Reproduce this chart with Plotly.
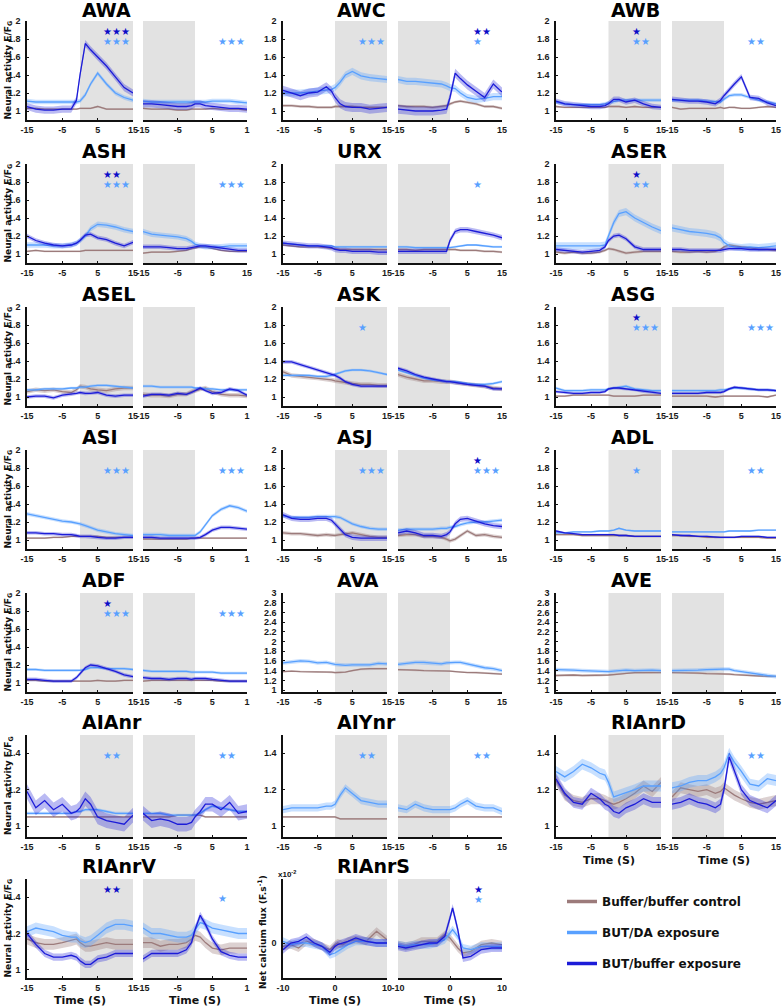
import plotly.graph_objects as go

# ---------------- time grids ----------------
XS = [-15, -12.5, -10, -7.5, -5, -2.5, -1, 0, 1.5, 3, 5, 7.5, 10, 12.5, 15]
XS_S = [-10, -8.5, -7, -5.5, -4, -2.5, -1, 0, 0.5, 1.5, 2.5, 4, 6, 8, 10]

# ---------------- data (on = left panel, off = right panel) ----------------
AWA_on_ctrl = [1.03, 1.03, 1.02, 1.02, 1.02, 1.02, 1.02, 1.03, 1.03, 1.03, 1.05, 1.02, 1.02, 1.02, 1.02]
AWA_on_da = [1.11, 1.10, 1.10, 1.10, 1.10, 1.10, 1.10, 1.11, 1.18, 1.30, 1.42, 1.30, 1.20, 1.15, 1.12]
AWA_on_buf = [1.05, 1.02, 1.01, 1.01, 1.02, 1.02, 1.12, 1.40, 1.75, 1.68, 1.60, 1.50, 1.38, 1.26, 1.20]
AWA_off_ctrl = [1.03, 1.02, 1.02, 1.02, 1.01, 1.01, 1.02, 1.02, 1.02, 1.02, 1.03, 1.02, 1.02, 1.02, 1.01]
AWA_off_da = [1.11, 1.10, 1.10, 1.10, 1.10, 1.10, 1.10, 1.10, 1.10, 1.10, 1.11, 1.11, 1.11, 1.10, 1.09]
AWA_off_buf = [1.08, 1.08, 1.07, 1.06, 1.05, 1.05, 1.06, 1.08, 1.08, 1.06, 1.05, 1.04, 1.03, 1.03, 1.02]
AWA_sem = [0.01, 0.025, 0.04]

AWC_on_ctrl = [1.06, 1.06, 1.05, 1.05, 1.04, 1.04, 1.04, 1.05, 1.05, 1.05, 1.05, 1.04, 1.04, 1.04, 1.04]
AWC_on_da = [1.20, 1.20, 1.20, 1.21, 1.22, 1.23, 1.24, 1.26, 1.32, 1.40, 1.44, 1.39, 1.37, 1.36, 1.35]
AWC_on_buf = [1.23, 1.20, 1.17, 1.20, 1.21, 1.27, 1.22, 1.15, 1.08, 1.05, 1.04, 1.04, 1.02, 1.03, 1.04]
AWC_off_ctrl = [1.06, 1.05, 1.05, 1.05, 1.04, 1.05, 1.06, 1.08, 1.10, 1.11, 1.10, 1.08, 1.05, 1.05, 1.03]
AWC_off_da = [1.35, 1.33, 1.33, 1.32, 1.31, 1.30, 1.28, 1.26, 1.25, 1.20, 1.15, 1.13, 1.14, 1.16, 1.16]
AWC_off_buf = [1.02, 1.01, 1.00, 1.00, 1.00, 1.01, 1.02, 1.15, 1.42, 1.36, 1.29, 1.22, 1.15, 1.30, 1.21]
AWC_sem = [0.015, 0.04, 0.05]

AWB_on_ctrl = [1.05, 1.04, 1.04, 1.04, 1.04, 1.04, 1.04, 1.05, 1.05, 1.05, 1.04, 1.05, 1.04, 1.04, 1.04]
AWB_on_da = [1.10, 1.08, 1.07, 1.07, 1.07, 1.07, 1.08, 1.09, 1.10, 1.12, 1.12, 1.12, 1.12, 1.12, 1.12]
AWB_on_buf = [1.11, 1.08, 1.07, 1.06, 1.05, 1.05, 1.06, 1.08, 1.13, 1.13, 1.10, 1.12, 1.08, 1.05, 1.04]
AWB_off_ctrl = [1.04, 1.02, 1.03, 1.03, 1.03, 1.03, 1.04, 1.03, 1.04, 1.04, 1.03, 1.03, 1.04, 1.05, 1.04]
AWB_off_da = [1.12, 1.12, 1.12, 1.12, 1.11, 1.10, 1.10, 1.13, 1.17, 1.18, 1.18, 1.15, 1.12, 1.10, 1.08]
AWB_off_buf = [1.13, 1.12, 1.11, 1.11, 1.10, 1.08, 1.12, 1.17, 1.24, 1.30, 1.38, 1.15, 1.14, 1.09, 1.06]
AWB_sem = [0.01, 0.02, 0.03]

ASH_on_ctrl = [1.03, 1.04, 1.03, 1.03, 1.03, 1.03, 1.03, 1.03, 1.04, 1.04, 1.04, 1.04, 1.04, 1.04, 1.04]
ASH_on_da = [1.10, 1.10, 1.10, 1.09, 1.09, 1.10, 1.12, 1.15, 1.20, 1.28, 1.33, 1.32, 1.30, 1.27, 1.25]
ASH_on_buf = [1.20, 1.15, 1.12, 1.10, 1.09, 1.10, 1.12, 1.15, 1.21, 1.22, 1.18, 1.16, 1.12, 1.09, 1.13]
ASH_off_ctrl = [1.01, 1.02, 1.02, 1.02, 1.03, 1.04, 1.06, 1.07, 1.08, 1.08, 1.06, 1.04, 1.03, 1.03, 1.03]
ASH_off_da = [1.25, 1.22, 1.21, 1.20, 1.19, 1.17, 1.14, 1.11, 1.09, 1.08, 1.08, 1.08, 1.09, 1.09, 1.09]
ASH_off_buf = [1.08, 1.08, 1.08, 1.07, 1.06, 1.06, 1.07, 1.08, 1.09, 1.09, 1.08, 1.06, 1.05, 1.04, 1.04]
ASH_sem = [0.01, 0.03, 0.025]

URX_on_ctrl = [1.10, 1.09, 1.08, 1.08, 1.08, 1.07, 1.06, 1.06, 1.05, 1.05, 1.05, 1.05, 1.05, 1.05, 1.05]
URX_on_da = [1.12, 1.11, 1.10, 1.09, 1.09, 1.09, 1.09, 1.08, 1.08, 1.08, 1.08, 1.08, 1.08, 1.08, 1.08]
URX_on_buf = [1.12, 1.11, 1.10, 1.09, 1.09, 1.08, 1.07, 1.05, 1.04, 1.04, 1.03, 1.03, 1.03, 1.02, 1.02]
URX_off_ctrl = [1.05, 1.05, 1.04, 1.05, 1.05, 1.05, 1.05, 1.05, 1.05, 1.04, 1.04, 1.04, 1.03, 1.03, 1.02]
URX_off_da = [1.08, 1.08, 1.07, 1.07, 1.07, 1.07, 1.07, 1.07, 1.08, 1.09, 1.10, 1.10, 1.09, 1.08, 1.08]
URX_off_buf = [1.03, 1.03, 1.03, 1.03, 1.03, 1.03, 1.03, 1.15, 1.25, 1.27, 1.27, 1.25, 1.23, 1.21, 1.18]
URX_sem = [0.012, 0.012, 0.03]

ASER_on_ctrl = [1.02, 1.01, 1.02, 1.01, 1.01, 1.02, 1.04, 1.06, 1.05, 1.03, 1.01, 1.02, 1.03, 1.03, 1.03]
ASER_on_da = [1.09, 1.09, 1.09, 1.09, 1.09, 1.09, 1.10, 1.20, 1.35, 1.45, 1.47, 1.40, 1.35, 1.30, 1.26]
ASER_on_buf = [1.05, 1.04, 1.03, 1.02, 1.03, 1.04, 1.08, 1.15, 1.20, 1.21, 1.17, 1.08, 1.05, 1.05, 1.05]
ASER_off_ctrl = [1.03, 1.02, 1.02, 1.03, 1.02, 1.03, 1.05, 1.08, 1.10, 1.09, 1.08, 1.07, 1.05, 1.05, 1.04]
ASER_off_da = [1.29, 1.27, 1.25, 1.24, 1.23, 1.21, 1.18, 1.13, 1.09, 1.08, 1.07, 1.08, 1.07, 1.08, 1.09]
ASER_off_buf = [1.05, 1.05, 1.04, 1.04, 1.04, 1.04, 1.04, 1.05, 1.06, 1.06, 1.06, 1.05, 1.05, 1.05, 1.05]
ASER_sem = [0.015, 0.04, 0.025]

ASEL_on_ctrl = [1.06, 1.08, 1.07, 1.08, 1.06, 1.05, 1.08, 1.12, 1.11, 1.09, 1.08, 1.07, 1.09, 1.10, 1.10]
ASEL_on_da = [1.08, 1.08, 1.09, 1.09, 1.09, 1.10, 1.10, 1.11, 1.11, 1.12, 1.13, 1.13, 1.12, 1.11, 1.10]
ASEL_on_buf = [1.00, 1.01, 1.01, 0.99, 1.02, 1.03, 1.04, 1.05, 1.04, 1.04, 1.05, 1.02, 1.01, 1.02, 1.02]
ASEL_off_ctrl = [1.03, 1.02, 1.02, 1.01, 1.03, 1.03, 1.06, 1.07, 1.09, 1.10, 1.06, 1.03, 1.02, 1.02, 1.01]
ASEL_off_da = [1.12, 1.12, 1.11, 1.11, 1.11, 1.11, 1.11, 1.10, 1.10, 1.09, 1.09, 1.08, 1.08, 1.08, 1.08]
ASEL_off_buf = [1.01, 1.03, 1.03, 1.02, 1.04, 1.03, 1.05, 1.07, 1.10, 1.07, 1.04, 1.05, 1.09, 1.07, 1.02]
ASEL_sem = [0.025, 0.015, 0.02]

ASK_on_ctrl = [1.28, 1.24, 1.23, 1.22, 1.21, 1.20, 1.19, 1.18, 1.17, 1.16, 1.15, 1.14, 1.14, 1.13, 1.13]
ASK_on_da = [1.24, 1.24, 1.24, 1.24, 1.23, 1.23, 1.24, 1.25, 1.27, 1.29, 1.30, 1.30, 1.29, 1.27, 1.25]
ASK_on_buf = [1.39, 1.39, 1.36, 1.33, 1.30, 1.27, 1.25, 1.24, 1.21, 1.17, 1.14, 1.12, 1.12, 1.12, 1.12]
ASK_off_ctrl = [1.25, 1.22, 1.20, 1.18, 1.18, 1.17, 1.17, 1.17, 1.16, 1.15, 1.14, 1.13, 1.12, 1.10, 1.09]
ASK_off_da = [1.30, 1.27, 1.24, 1.21, 1.19, 1.18, 1.17, 1.17, 1.17, 1.16, 1.15, 1.14, 1.14, 1.15, 1.17]
ASK_off_buf = [1.32, 1.29, 1.25, 1.22, 1.20, 1.18, 1.17, 1.17, 1.16, 1.15, 1.14, 1.13, 1.12, 1.09, 1.09]
ASK_sem = [0.025, 0.015, 0.02]

ASG_on_ctrl = [1.01, 1.01, 1.02, 1.02, 1.02, 1.02, 1.02, 1.02, 1.01, 1.01, 1.01, 1.01, 1.02, 1.02, 1.02]
ASG_on_da = [1.10, 1.07, 1.07, 1.07, 1.08, 1.08, 1.08, 1.09, 1.10, 1.11, 1.12, 1.09, 1.08, 1.07, 1.07]
ASG_on_buf = [1.06, 1.05, 1.04, 1.04, 1.05, 1.05, 1.06, 1.09, 1.10, 1.10, 1.09, 1.08, 1.06, 1.05, 1.04]
ASG_off_ctrl = [1.01, 1.01, 1.01, 1.01, 1.01, 1.00, 1.01, 1.01, 1.01, 1.01, 1.01, 1.01, 1.01, 1.00, 1.02]
ASG_off_da = [1.07, 1.07, 1.07, 1.07, 1.07, 1.07, 1.08, 1.08, 1.09, 1.10, 1.10, 1.09, 1.08, 1.08, 1.07]
ASG_off_buf = [1.04, 1.04, 1.04, 1.04, 1.05, 1.05, 1.05, 1.06, 1.09, 1.11, 1.10, 1.09, 1.08, 1.08, 1.07]
ASG_sem = [0.01, 0.015, 0.015]

ASI_on_ctrl = [1.02, 1.02, 1.02, 1.03, 1.03, 1.04, 1.04, 1.04, 1.04, 1.04, 1.04, 1.03, 1.03, 1.03, 1.03]
ASI_on_da = [1.29, 1.27, 1.25, 1.23, 1.21, 1.20, 1.19, 1.18, 1.16, 1.14, 1.11, 1.09, 1.07, 1.06, 1.05]
ASI_on_buf = [1.08, 1.08, 1.07, 1.07, 1.06, 1.06, 1.05, 1.04, 1.04, 1.04, 1.03, 1.02, 1.02, 1.03, 1.03]
ASI_off_ctrl = [1.01, 1.01, 1.01, 1.01, 1.01, 1.01, 1.02, 1.02, 1.02, 1.02, 1.02, 1.02, 1.02, 1.02, 1.02]
ASI_off_da = [1.06, 1.06, 1.06, 1.05, 1.05, 1.05, 1.05, 1.05, 1.09, 1.17, 1.27, 1.34, 1.38, 1.36, 1.32]
ASI_off_buf = [1.03, 1.03, 1.02, 1.02, 1.02, 1.02, 1.02, 1.02, 1.03, 1.06, 1.11, 1.14, 1.14, 1.13, 1.12]
ASI_sem = [0.01, 0.02, 0.02]

ASJ_on_ctrl = [1.08, 1.07, 1.07, 1.06, 1.05, 1.06, 1.05, 1.05, 1.06, 1.07, 1.08, 1.06, 1.04, 1.03, 1.03]
ASJ_on_da = [1.27, 1.25, 1.25, 1.25, 1.26, 1.26, 1.26, 1.26, 1.25, 1.22, 1.18, 1.15, 1.13, 1.12, 1.12]
ASJ_on_buf = [1.28, 1.24, 1.23, 1.23, 1.24, 1.24, 1.22, 1.18, 1.12, 1.06, 1.03, 1.02, 1.02, 1.02, 1.02]
ASJ_off_ctrl = [1.05, 1.06, 1.06, 1.04, 1.04, 1.03, 1.01, 0.99, 1.01, 1.05, 1.10, 1.05, 1.06, 1.04, 1.03]
ASJ_off_da = [1.11, 1.12, 1.12, 1.12, 1.12, 1.13, 1.13, 1.14, 1.15, 1.17, 1.19, 1.20, 1.20, 1.21, 1.22]
ASJ_off_buf = [1.08, 1.10, 1.08, 1.05, 1.05, 1.04, 1.06, 1.09, 1.18, 1.23, 1.24, 1.21, 1.18, 1.16, 1.15]
ASJ_sem = [0.02, 0.02, 0.03]

ADL_on_ctrl = [1.06, 1.06, 1.06, 1.05, 1.05, 1.05, 1.05, 1.05, 1.05, 1.05, 1.05, 1.04, 1.04, 1.04, 1.04]
ADL_on_da = [1.08, 1.08, 1.09, 1.09, 1.09, 1.10, 1.10, 1.10, 1.11, 1.13, 1.11, 1.10, 1.10, 1.10, 1.10]
ADL_on_buf = [1.10, 1.08, 1.07, 1.06, 1.06, 1.06, 1.06, 1.06, 1.06, 1.05, 1.05, 1.04, 1.04, 1.04, 1.04]
ADL_off_ctrl = [1.05, 1.05, 1.04, 1.04, 1.03, 1.03, 1.03, 1.03, 1.03, 1.03, 1.03, 1.03, 1.03, 1.02, 1.02]
ADL_off_da = [1.09, 1.09, 1.09, 1.09, 1.09, 1.09, 1.09, 1.09, 1.10, 1.10, 1.10, 1.10, 1.11, 1.11, 1.11]
ADL_off_buf = [1.06, 1.05, 1.05, 1.04, 1.04, 1.03, 1.03, 1.03, 1.03, 1.03, 1.04, 1.04, 1.04, 1.03, 1.03]
ADL_sem = [0.01, 0.01, 0.01]

ADF_on_ctrl = [1.03, 1.03, 1.02, 1.02, 1.02, 1.02, 1.02, 1.02, 1.02, 1.02, 1.03, 1.02, 1.02, 1.03, 1.03]
ADF_on_da = [1.15, 1.15, 1.14, 1.14, 1.14, 1.14, 1.14, 1.14, 1.15, 1.17, 1.17, 1.16, 1.16, 1.16, 1.15]
ADF_on_buf = [1.04, 1.04, 1.03, 1.02, 1.02, 1.02, 1.06, 1.10, 1.17, 1.20, 1.19, 1.16, 1.13, 1.09, 1.07]
ADF_off_ctrl = [1.02, 1.03, 1.03, 1.03, 1.03, 1.03, 1.03, 1.03, 1.03, 1.03, 1.03, 1.02, 1.02, 1.02, 1.02]
ADF_off_da = [1.14, 1.13, 1.13, 1.13, 1.13, 1.13, 1.12, 1.12, 1.12, 1.12, 1.12, 1.11, 1.11, 1.11, 1.11]
ADF_off_buf = [1.06, 1.05, 1.05, 1.04, 1.05, 1.05, 1.04, 1.05, 1.05, 1.05, 1.04, 1.03, 1.02, 1.02, 1.02]
ADF_sem = [0.01, 0.015, 0.02]

AVA_on_ctrl = [1.38, 1.39, 1.38, 1.38, 1.37, 1.37, 1.37, 1.36, 1.36, 1.37, 1.40, 1.43, 1.44, 1.44, 1.44]
AVA_on_da = [1.56, 1.58, 1.60, 1.59, 1.56, 1.57, 1.54, 1.53, 1.52, 1.51, 1.52, 1.52, 1.52, 1.55, 1.54]
AVA_on_buf = None
AVA_off_ctrl = [1.42, 1.42, 1.41, 1.40, 1.40, 1.40, 1.40, 1.39, 1.38, 1.37, 1.36, 1.36, 1.35, 1.34, 1.33]
AVA_off_da = [1.53, 1.55, 1.57, 1.57, 1.55, 1.54, 1.56, 1.57, 1.57, 1.57, 1.54, 1.50, 1.46, 1.44, 1.40]
AVA_off_buf = None
AVA_sem = [0.02, 0.04, 0.0]

AVE_on_ctrl = [1.30, 1.31, 1.31, 1.30, 1.30, 1.30, 1.31, 1.31, 1.32, 1.33, 1.35, 1.36, 1.36, 1.36, 1.36]
AVE_on_da = [1.42, 1.42, 1.41, 1.40, 1.39, 1.39, 1.38, 1.38, 1.39, 1.40, 1.41, 1.40, 1.41, 1.41, 1.40]
AVE_on_buf = None
AVE_off_ctrl = [1.36, 1.36, 1.36, 1.35, 1.34, 1.34, 1.34, 1.33, 1.33, 1.32, 1.31, 1.30, 1.29, 1.28, 1.28]
AVE_off_da = [1.40, 1.40, 1.40, 1.41, 1.42, 1.43, 1.44, 1.43, 1.43, 1.40, 1.38, 1.35, 1.33, 1.30, 1.28]
AVE_off_buf = None
AVE_sem = [0.02, 0.04, 0.0]

AIAnr_on_ctrl = [1.05, 1.05, 1.05, 1.05, 1.05, 1.05, 1.05, 1.05, 1.05, 1.05, 1.05, 1.05, 1.05, 1.05, 1.05]
AIAnr_on_da = [1.07, 1.07, 1.07, 1.07, 1.07, 1.07, 1.08, 1.08, 1.09, 1.09, 1.09, 1.08, 1.07, 1.07, 1.07]
AIAnr_on_buf = [1.19, 1.10, 1.14, 1.09, 1.12, 1.07, 1.08, 1.10, 1.15, 1.12, 1.05, 1.03, 1.02, 1.01, 1.06]
AIAnr_off_ctrl = [1.05, 1.05, 1.05, 1.05, 1.06, 1.06, 1.06, 1.06, 1.06, 1.05, 1.05, 1.05, 1.05, 1.05, 1.05]
AIAnr_off_da = [1.07, 1.07, 1.07, 1.06, 1.06, 1.06, 1.06, 1.06, 1.07, 1.09, 1.11, 1.10, 1.09, 1.08, 1.08]
AIAnr_off_buf = [1.07, 1.03, 1.04, 1.03, 1.01, 1.01, 1.02, 1.05, 1.08, 1.12, 1.12, 1.09, 1.13, 1.07, 1.08]
AIAnr_sem = [0.005, 0.008, 0.04]

AIYnr_on_ctrl = [1.05, 1.05, 1.05, 1.05, 1.05, 1.05, 1.05, 1.05, 1.04, 1.04, 1.04, 1.04, 1.04, 1.04, 1.04]
AIYnr_on_da = [1.09, 1.10, 1.10, 1.10, 1.10, 1.11, 1.11, 1.12, 1.17, 1.21, 1.18, 1.14, 1.13, 1.12, 1.12]
AIYnr_on_buf = None
AIYnr_off_ctrl = [1.05, 1.05, 1.05, 1.05, 1.05, 1.05, 1.05, 1.05, 1.05, 1.05, 1.05, 1.05, 1.05, 1.05, 1.05]
AIYnr_off_da = [1.10, 1.09, 1.12, 1.10, 1.09, 1.09, 1.09, 1.09, 1.10, 1.12, 1.14, 1.11, 1.10, 1.10, 1.08]
AIYnr_off_buf = None
AIYnr_sem = [0.005, 0.02, 0.0]

RIAnrD_on_ctrl = [1.25, 1.17, 1.14, 1.13, 1.15, 1.15, 1.14, 1.13, 1.12, 1.13, 1.15, 1.18, 1.22, 1.19, 1.24]
RIAnrD_on_da = [1.30, 1.27, 1.30, 1.34, 1.32, 1.29, 1.28, 1.24, 1.16, 1.17, 1.18, 1.20, 1.22, 1.22, 1.22]
RIAnrD_on_buf = [1.26, 1.18, 1.13, 1.12, 1.18, 1.15, 1.12, 1.11, 1.08, 1.07, 1.10, 1.12, 1.15, 1.13, 1.13]
RIAnrD_off_ctrl = [1.16, 1.21, 1.20, 1.19, 1.20, 1.18, 1.19, 1.21, 1.19, 1.17, 1.15, 1.13, 1.12, 1.13, 1.14]
RIAnrD_off_da = [1.21, 1.22, 1.24, 1.25, 1.25, 1.27, 1.29, 1.32, 1.40, 1.35, 1.30, 1.23, 1.22, 1.26, 1.25]
RIAnrD_off_buf = [1.12, 1.13, 1.15, 1.13, 1.12, 1.10, 1.12, 1.20, 1.38, 1.30, 1.20, 1.14, 1.12, 1.10, 1.14]
RIAnrD_sem = [0.03, 0.03, 0.03]

RIAnrV_on_ctrl = [1.17, 1.15, 1.14, 1.14, 1.15, 1.16, 1.17, 1.15, 1.13, 1.13, 1.14, 1.15, 1.14, 1.14, 1.14]
RIAnrV_on_da = [1.21, 1.23, 1.22, 1.21, 1.19, 1.18, 1.18, 1.16, 1.15, 1.16, 1.19, 1.23, 1.25, 1.25, 1.24]
RIAnrV_on_buf = [1.20, 1.14, 1.09, 1.07, 1.07, 1.08, 1.07, 1.05, 1.03, 1.03, 1.06, 1.07, 1.09, 1.09, 1.09]
RIAnrV_off_ctrl = [1.15, 1.15, 1.13, 1.14, 1.14, 1.15, 1.17, 1.19, 1.18, 1.15, 1.12, 1.11, 1.12, 1.12, 1.12]
RIAnrV_off_da = [1.23, 1.20, 1.20, 1.19, 1.18, 1.18, 1.19, 1.22, 1.26, 1.25, 1.23, 1.22, 1.21, 1.20, 1.20]
RIAnrV_off_buf = [1.06, 1.09, 1.09, 1.09, 1.09, 1.11, 1.15, 1.22, 1.30, 1.25, 1.17, 1.10, 1.08, 1.07, 1.07]
RIAnrV_sem = [0.03, 0.03, 0.02]

# net calcium flux, units of 1e-2 F.s^-1, on grid XS_S
RIAnrS_on_ctrl = [-0.10, -0.05, -0.15, 0.05, 0.00, -0.10, -0.20, -0.05, 0.00, -0.05, 0.05, 0.10, 0.05, 0.35, 0.10]
RIAnrS_on_da = [0.05, -0.05, 0.00, 0.00, -0.05, -0.10, -0.35, -0.30, -0.25, -0.15, -0.05, 0.05, 0.05, 0.00, 0.00]
RIAnrS_on_buf = [-0.20, 0.00, 0.05, 0.18, 0.00, -0.10, -0.28, -0.10, -0.05, 0.00, 0.05, 0.15, 0.05, 0.00, 0.00]
RIAnrS_off_ctrl = [-0.05, -0.10, -0.05, 0.05, 0.05, 0.05, 0.25, 0.15, 0.05, -0.15, -0.30, -0.25, -0.05, 0.00, -0.05]
RIAnrS_off_da = [-0.05, -0.10, -0.05, -0.05, -0.05, 0.00, 0.10, 0.30, 0.40, 0.20, -0.15, -0.20, -0.10, -0.10, -0.10]
RIAnrS_off_buf = [-0.10, -0.15, -0.10, -0.05, 0.00, 0.00, 0.20, 0.75, 1.05, 0.40, -0.45, -0.40, -0.20, -0.15, -0.15]
RIAnrS_sem = [0.12, 0.12, 0.12]

# significance stars: (panel, side, n dark stars, n light stars)
STARS = [("AWA", 0, 3, 3), ("AWA", 1, 0, 3), ("AWC", 0, 0, 3), ("AWC", 1, 2, 1),
         ("AWB", 0, 1, 2), ("AWB", 1, 0, 2), ("ASH", 0, 2, 3), ("ASH", 1, 0, 3),
         ("URX", 1, 0, 1), ("ASER", 0, 1, 2), ("ASK", 0, 0, 1), ("ASG", 0, 1, 3),
         ("ASG", 1, 0, 3), ("ASI", 0, 0, 3), ("ASI", 1, 0, 3), ("ASJ", 0, 0, 3),
         ("ASJ", 1, 1, 3), ("ADL", 0, 0, 1), ("ADL", 1, 0, 2), ("ADF", 0, 1, 3),
         ("ADF", 1, 0, 3), ("AIAnr", 0, 0, 2), ("AIAnr", 1, 0, 2), ("AIYnr", 0, 0, 2),
         ("AIYnr", 1, 0, 2), ("RIAnrD", 1, 0, 2), ("RIAnrV", 0, 2, 0), ("RIAnrV", 1, 0, 1),
         ("RIAnrS", 1, 1, 1)]

SERIES_NAMES = ["Buffer/buffer control", "BUT/DA exposure", "BUT/buffer exposure"]

PANELS = [("AWA", 0, 0, "std"), ("AWC", 0, 1, "std"), ("AWB", 0, 2, "std"),
          ("ASH", 1, 0, "std"), ("URX", 1, 1, "std"), ("ASER", 1, 2, "std"),
          ("ASEL", 2, 0, "std"), ("ASK", 2, 1, "std"), ("ASG", 2, 2, "std"),
          ("ASI", 3, 0, "std"), ("ASJ", 3, 1, "std"), ("ADL", 3, 2, "std"),
          ("ADF", 4, 0, "std"), ("AVA", 4, 1, "big"), ("AVE", 4, 2, "big"),
          ("AIAnr", 5, 0, "low6"), ("AIYnr", 5, 1, "low6"), ("RIAnrD", 5, 2, "low6"),
          ("RIAnrV", 6, 0, "low7"), ("RIAnrS", 6, 1, "flux")]

BIG_TICKS = [1, 1.2, 1.4, 1.6, 1.8, 2, 2.2, 2.4, 2.6, 2.8, 3]
BIG_TEXT = ["1", "1.2", "1.4", "1.6", "1.8", "2", "2.2", "2.4", "2.6", "2.8", "3"]

# ---------------- build ----------------
g = globals()
DATA = {name: [g[f"{name}_{s}_{k}"] for s in ("on", "off") for k in ("ctrl", "da", "buf")]
        for name, _, _, _ in PANELS}
SEM = {name: g[f"{name}_sem"] for name, _, _, _ in PANELS}

W, H = 782, 1008
def fx(p): return p / W
def fy(p): return 1 - p / H

COLS_X = [(27, 133, 143, 247), (283, 387, 398, 502), (556, 661, 672, 776)]
ROWS_Y = [(21, 120), (164, 263), (307, 406), (450, 549), (593, 692), (735, 837), (879, 978)]
YRANGE = {"std": [0.9, 2.0], "big": [0.96, 3.0], "low6": [0.94, 1.5],
          "low7": [0.955, 1.5], "flux": [-1.05, 1.92]}
YTICKS = {"std": ([1, 1.2, 1.4, 1.6, 1.8, 2], ["1", "1.2", "1.4", "1.6", "1.8", "2"]),
          "big": (BIG_TICKS, BIG_TEXT),
          "low6": ([1, 1.2, 1.4], ["1", "1.2", "1.4"]),
          "low7": ([1, 1.2, 1.4], ["1", "1.2", "1.4"]),
          "flux": ([0], ["0"])}
STAR_Y = {"std": (1.88, 1.77), "low6": (1.44, 1.39), "low7": (1.44, 1.39),
          "flux": (1.6, 1.3), "big": (2.8, 2.6)}

COLORS = ["#9c7b7b", "#58a0ff", "#1c1cd8"]
FILLS = ["rgba(156,123,123,0.35)", "rgba(88,160,255,0.33)", "rgba(28,28,216,0.30)"]
DARK_STAR = "#0c0cc8"
LIGHT_STAR = "#58a0ff"
SHADE = "#e2e2e2"

TICKFONT = dict(family="Liberation Sans, Arial", size=9, color="#1a1a1a", weight="bold")
LABELFONT = dict(family="DejaVu Sans", size=9, color="#111", weight="bold")

fig = go.Figure()
layout = {}
shapes = []
annotations = []
axis_of = {}

for idx, (name, row, col, kind) in enumerate(PANELS):
    xs = XS_S if kind == "flux" else XS
    xmin, xmax = xs[0], xs[-1]
    y0px, y1px = ROWS_Y[row]
    cx = COLS_X[col]
    vals = DATA[name]
    sem = SEM[name]
    for side in (0, 1):
        n = idx * 2 + side + 1
        xa = "x" if n == 1 else f"x{n}"
        ya = "y" if n == 1 else f"y{n}"
        axis_of[(name, side)] = (xa, ya)
        xkey = "xaxis" if n == 1 else f"xaxis{n}"
        ykey = "yaxis" if n == 1 else f"yaxis{n}"
        if kind == "flux":
            tv = [-10, 0, 10]
            tt = ["-10", "0", "10"]
        else:
            tv = [-15, -5, 5, 15]
            tt = ["-15", "-5", "5", "15"]
            if side == 1 and col == 0 and row != 1:
                tt = ["-15", "-5", "5", "1"]
        layout[xkey] = dict(domain=[fx(cx[2 * side]), fx(cx[2 * side + 1])], anchor=ya,
                            range=[xmin, xmax], tickvals=tv, ticktext=tt,
                            showline=True, linecolor="#111", linewidth=1.6,
                            ticks="inside", ticklen=2, tickcolor="#111",
                            tickfont=TICKFONT, showgrid=False, zeroline=False,
                            fixedrange=True, automargin=False)
        ytv, ytt = YTICKS[kind]
        layout[ykey] = dict(domain=[fy(y1px), fy(y0px)], anchor=xa, range=YRANGE[kind],
                            tickvals=ytv if side == 0 else [], ticktext=ytt if side == 0 else [],
                            showticklabels=(side == 0), showline=(side == 0),
                            linecolor="#111", linewidth=1.6,
                            ticks="inside" if side == 0 else "", ticklen=2, tickcolor="#111",
                            tickfont=TICKFONT, showgrid=False, zeroline=False,
                            fixedrange=True, ticklabelstandoff=3, automargin=False)
        # stimulus shading
        sx0, sx1 = (0, xmax) if side == 0 else (xmin, 0)
        shapes.append(dict(type="rect", xref=xa, yref=f"{ya} domain", x0=sx0, x1=sx1,
                           y0=0, y1=1, fillcolor=SHADE, line=dict(width=0), layer="below"))
        # traces
        for k in range(3):
            v = vals[side * 3 + k]
            if v is None:
                continue
            up = [a + sem[k] for a in v]
            lo = [a - sem[k] for a in v]
            fig.add_trace(go.Scatter(x=list(xs) + list(xs)[::-1], y=up + lo[::-1],
                                     fill="toself", fillcolor=FILLS[k], line=dict(width=0),
                                     mode="lines", hoverinfo="skip", showlegend=False,
                                     xaxis=xa, yaxis=ya))
            fig.add_trace(go.Scatter(x=xs, y=v, mode="lines",
                                     line=dict(color=COLORS[k], width=1.3),
                                     name=SERIES_NAMES[k], showlegend=False,
                                     xaxis=xa, yaxis=ya))
    # title
    xa0, _ = axis_of[(name, 0)]
    annotations.append(dict(text=f"<b>{name}</b>", xref=xa0, x=0, xanchor="left",
                            yref="paper", y=fy(max(y0px - 13, 10)), yanchor="middle", showarrow=False,
                            font=dict(family="DejaVu Sans", size=19, color="#000")))
    if col == 0:
        annotations.append(dict(text="<b>Neural activity F/F<sub>G</sub></b>", textangle=-90,
                                xref="paper", x=fx(8), xanchor="center",
                                yref="paper", y=fy((y0px + y1px) / 2), yanchor="middle",
                                showarrow=False, font=LABELFONT))

# stars
kind_of = {p[0]: p[3] for p in PANELS}
for name, side, nd, nl in STARS:
    xa, ya = axis_of[(name, side)]
    kind = kind_of[name]
    sx = 4.2 if kind == "flux" else 6.0
    yd, yl = STAR_Y[kind]
    if nd:
        annotations.append(dict(text="★" * nd, xref=xa, yref=ya, x=sx, y=yd, xanchor="left",
                                yanchor="middle", showarrow=False,
                                font=dict(family="DejaVu Sans", size=10, color=DARK_STAR)))
    if nl:
        annotations.append(dict(text="★" * nl, xref=xa, yref=ya, x=sx, y=yl, xanchor="left",
                                yanchor="middle", showarrow=False,
                                font=dict(family="DejaVu Sans", size=10, color=LIGHT_STAR)))

# Time labels
for (col, row) in [(2, 5), (0, 6), (1, 6)]:
    cx = COLS_X[col]
    ty = 860 if row == 5 else 1000
    for side in (0, 1):
        annotations.append(dict(text="<b>Time (S)</b>", xref="paper", yref="paper",
                                x=fx((cx[2 * side] + cx[2 * side + 1]) / 2), y=fy(ty),
                                xanchor="center", yanchor="middle", showarrow=False,
                                font=dict(family="DejaVu Sans", size=11, color="#111")))

annotations.append(dict(text="<b>Net calcium flux (F.s<sup>-1</sup>)</b>", textangle=-90,
                        xref="paper", yref="paper", x=fx(262), y=fy(932), xanchor="center",
                        yanchor="middle", showarrow=False, font=LABELFONT))
annotations.append(dict(text="<b>x10<sup>-2</sup></b>", xref="paper", yref="paper",
                        x=fx(276), y=fy(874), xanchor="left", yanchor="middle",
                        showarrow=False, font=dict(family="Liberation Sans, Arial", size=8, color="#111")))

# legend entries
for k in range(3):
    fig.add_trace(go.Scatter(x=[None], y=[None], mode="lines",
                             line=dict(color=COLORS[k], width=3.5),
                             name=SERIES_NAMES[k], legendgroup=f"g{k}", showlegend=True))

fig.update_layout(**layout)
fig.update_layout(width=W, height=H, margin=dict(l=0, r=0, t=0, b=0, autoexpand=False),
                  paper_bgcolor="white", plot_bgcolor="white",
                  shapes=shapes, annotations=annotations, showlegend=True,
                  legend=dict(x=fx(562), y=fy(887), xanchor="left", yanchor="top",
                              font=dict(family="DejaVu Sans", size=12, color="#111", weight="bold"),
                              tracegroupgap=12, bgcolor="rgba(0,0,0,0)", itemwidth=30))

fig.write_html("out.html", config={"displayModeBar": False},
               post_script="document.body.style.margin='0px';document.body.style.padding='0px';")
